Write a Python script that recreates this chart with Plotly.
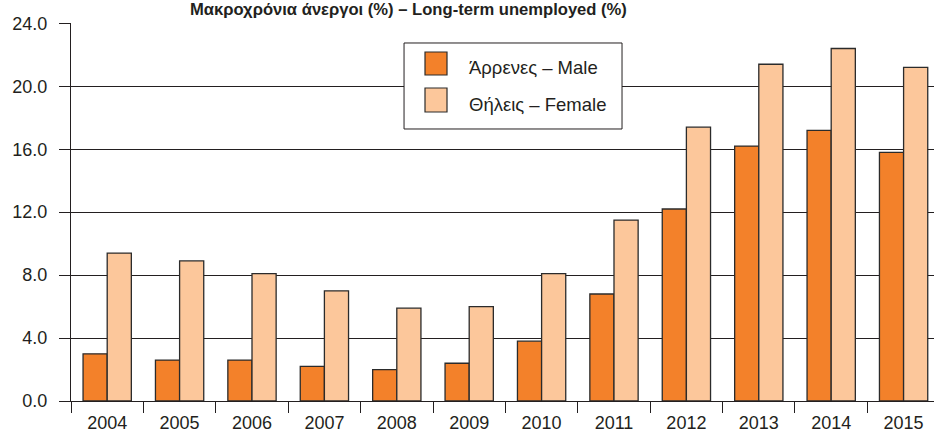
import plotly.graph_objects as go

# data
years = ["2004", "2005", "2006", "2007", "2008", "2009",
         "2010", "2011", "2012", "2013", "2014", "2015"]
male = [3.0, 2.6, 2.6, 2.2, 2.0, 2.4, 3.8, 6.8, 12.2, 16.2, 17.2, 15.8]
female = [9.4, 8.9, 8.1, 7.0, 5.9, 6.0, 8.1, 11.5, 17.4, 21.4, 22.4, 21.2]
series_names = ["Άρρενες – Male", "Θήλεις – Female"]
series_colors = ["#F3812A", "#FCC79B"]
title_text = "Μακροχρόνια άνεργοι (%) – Long-term unemployed (%)"

FONT = "Liberation Sans, Arial, sans-serif"
DARK = "#231f20"

fig = go.Figure()
for name, vals, col in zip(series_names, [male, female], series_colors):
    fig.add_trace(go.Bar(
        x=years, y=vals, name=name, showlegend=False,
        marker=dict(color=col, line=dict(color="#2b2b2b", width=1.3)),
    ))

# hand-drawn legend box (bigger swatches than plotly's own legend)
fig.add_shape(type="rect", xref="paper", yref="paper",
              x0=0.3859, x1=0.6385, y0=0.7196, y1=0.9471,
              fillcolor="white", line=dict(color=DARK, width=1), layer="above")
swatch_y = [(0.8624, 0.9233), (0.7646, 0.8280)]
label_y = [0.8810, 0.7857]
for (y0, y1), ly, name, col in zip(swatch_y, label_y, series_names, series_colors):
    fig.add_shape(type="rect", xref="paper", yref="paper",
                  x0=0.4102, x1=0.4357, y0=y0, y1=y1,
                  fillcolor=col, line=dict(color="#2b2b2b", width=1.2), layer="above")
    fig.add_annotation(x=0.4589, y=ly, xref="paper", yref="paper",
                       text=name, showarrow=False, xanchor="left", yanchor="middle",
                       font=dict(size=18.5, color=DARK, family=FONT))

# title hugs the top edge (kept just inside the picture so it stays readable)
fig.add_annotation(x=0.3905, y=1.0, xref="paper", yref="paper",
                   text="<b>" + title_text + "</b>", showarrow=False,
                   xanchor="center", yanchor="bottom", yshift=2,
                   font=dict(size=16.6, color=DARK, family=FONT))

fig.update_layout(
    width=934, height=434,
    margin=dict(l=71, r=0, t=23, b=33),
    paper_bgcolor="white", plot_bgcolor="white",
    barmode="group", bargap=0.333, bargroupgap=0,
    font=dict(family=FONT, size=18, color=DARK),
)
fig.update_xaxes(
    type="category", range=[-0.5, 11.42],
    tickson="boundaries", ticks="outside", ticklen=11, tickcolor=DARK, tickwidth=1,
    ticklabelstandoff=5,
    showline=True, linecolor=DARK, linewidth=1,
    showgrid=False, zeroline=False,
    tickfont=dict(size=18, color=DARK, family=FONT),
)
fig.update_yaxes(
    range=[0, 24.02], dtick=4, tick0=0, tickformat=".1f",
    ticks="outside", ticklen=11, tickcolor=DARK, tickwidth=1,
    ticklabelstandoff=8,
    showline=True, linecolor=DARK, linewidth=1,
    showgrid=True, gridcolor=DARK, gridwidth=1,
    zeroline=False,
    tickfont=dict(size=18, color=DARK, family=FONT),
)

# the page has a default 8px body margin; drop it so the figure fills the window
fig.write_html("out.html",
               config={"displayModeBar": False},
               post_script="document.body.style.margin='0';"
                           "document.body.style.overflow='hidden';")
